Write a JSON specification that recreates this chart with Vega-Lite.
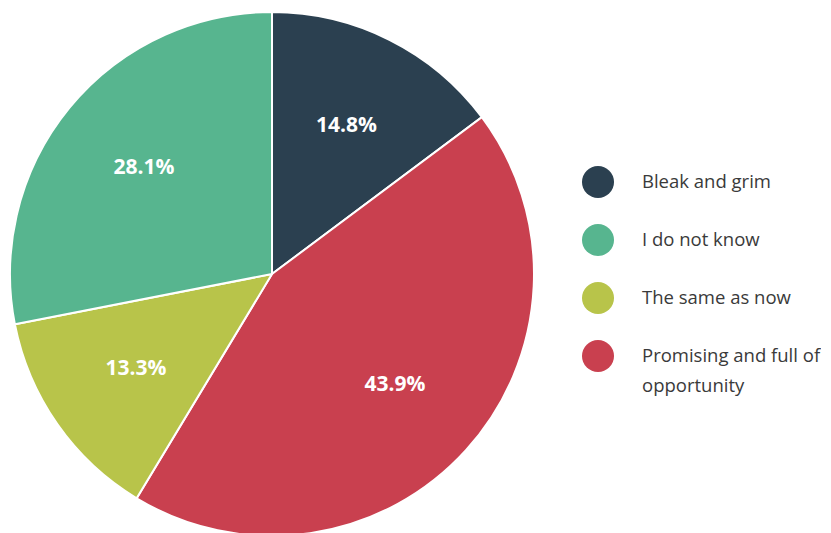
{
  "$schema": "https://vega.github.io/schema/vega-lite/v6.json",
  "width": 544,
  "height": 548,
  "padding": 0,
  "background": "white",
  "config": {
    "style": {
      "guide-label": {"lineHeight": 30, "dy": -9}
    }
  },
  "data": {
    "values": [
      {"answer": "Bleak and grim", "share": 0.148, "rank": 1},
      {"answer": "Promising and full of opportunity", "share": 0.439, "rank": 2},
      {"answer": "The same as now", "share": 0.133, "rank": 3},
      {"answer": "I do not know", "share": 0.281, "rank": 4}
    ]
  },
  "encoding": {
    "theta": {"field": "share", "type": "quantitative", "stack": true},
    "order": {"field": "rank", "type": "quantitative"}
  },
  "layer": [
    {
      "mark": {"type": "arc", "outerRadius": 262, "stroke": "white", "strokeWidth": 2},
      "encoding": {
        "color": {
          "field": "answer",
          "type": "nominal",
          "scale": {
            "domain": ["Bleak and grim", "I do not know", "The same as now", "Promising and full of opportunity"],
            "range": ["#2b4050", "#57b58f", "#b8c44a", "#c9404f"]
          },
          "legend": {
            "title": null,
            "orient": "none",
            "legendX": 582,
            "legendY": 166,
            "symbolType": "circle",
            "symbolSize": 1024,
            "symbolStrokeWidth": 0,
            "symbolOpacity": 1,
            "rowPadding": 26,
            "labelFont": "Open Sans",
            "labelFontSize": 18.5,
            "labelColor": "#3a3a3a",
            "labelOffset": 28,
            "labelLimit": 300,
            "labelBaseline": "top",
            "labelExpr": "datum.label == 'Promising and full of opportunity' ? ['Promising and full of', 'opportunity'] : datum.label"
          }
        }
      }
    },
    {
      "mark": {"type": "text", "radius": 166, "font": "Open Sans", "fontSize": 21, "fontWeight": "bold", "color": "white"},
      "encoding": {
        "text": {"field": "share", "type": "quantitative", "format": ".1%"}
      }
    }
  ]
}
